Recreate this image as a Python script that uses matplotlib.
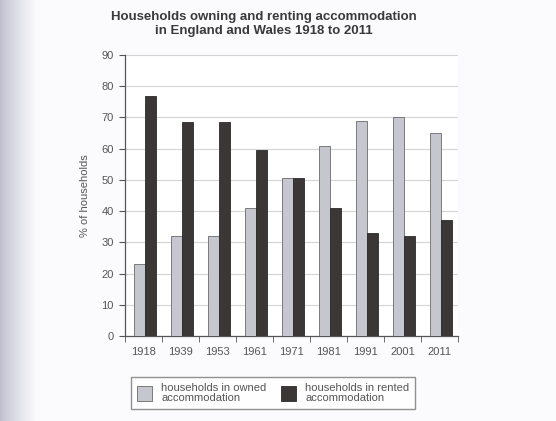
import numpy as np
import matplotlib
matplotlib.use("Agg")
from matplotlib import pyplot

years = ["1918", "1939", "1953", "1961", "1971", "1981", "1991", "2001", "2011"]
owned = [23, 32, 32, 41, 50.5, 61, 69, 70, 65]
rented = [77, 68.5, 68.5, 59.5, 50.5, 41, 33, 32, 37]

owned_color = "#c6c6ce"
rented_color = "#3b3737"
text_color = "#555555"

pyplot.rcParams["font.family"] = ["Liberation Sans", "DejaVu Sans"]

fig = pyplot.figure(figsize=(5.56, 4.21), dpi=100)
fig.patch.set_facecolor("#fbfbfd")

# scanned-page shadow on the left edge
bg = fig.add_axes([0, 0, 0.075, 1], zorder=-5)
grad = np.linspace(0, 1, 200)
shade = np.clip(grad * 1.15, 0, 1) ** 0.8
img = np.zeros((1, 200, 3))
img[0, :, 0] = 0.74 + (0.985 - 0.74) * shade
img[0, :, 1] = 0.74 + (0.985 - 0.74) * shade
img[0, :, 2] = 0.81 + (0.99 - 0.81) * shade
bg.imshow(img, aspect="auto", extent=[0, 1, 0, 1])
bg.axis("off")

ax = fig.add_axes([125 / 556, 1 - 336 / 421, 333 / 556, 281 / 421])
ax.set_facecolor("white")

x = np.arange(len(years))
width = 0.31
ax.bar(x - width / 2 + 0.04, owned, width, color=owned_color,
       edgecolor="#6a6a6a", linewidth=0.6, label="households in owned\naccommodation", zorder=3)
ax.bar(x + width / 2 + 0.04, rented, width, color=rented_color,
       edgecolor="#2a2a2a", linewidth=0.6, label="households in rented\naccommodation", zorder=3)

ax.set_xlim(-0.5, len(years) - 0.5)
ax.set_ylim(0, 90)
ax.set_yticks(range(0, 91, 10))
ax.yaxis.grid(True, color="#d4d4d4", linewidth=0.8, zorder=0)
ax.set_axisbelow(True)

ax.set_xticks(x)
ax.set_xticklabels(years)
ax.set_xticks(np.arange(-0.5, len(years)), minor=True)
ax.tick_params(axis="x", which="major", length=0, pad=8, labelsize=8, labelcolor=text_color)
ax.tick_params(axis="x", which="minor", length=4, direction="out", color="#555555")
ax.tick_params(axis="y", length=4, direction="out", labelsize=8, labelcolor=text_color,
               color="#555555", pad=4)

for side in ["top", "right"]:
    ax.spines[side].set_visible(False)
for side in ["left", "bottom"]:
    ax.spines[side].set_color("#555555")
    ax.spines[side].set_linewidth(0.9)

ax.set_ylabel("% of households", fontsize=8, color=text_color, labelpad=8)

fig.text(264 / 556, 1 - 24 / 421,
         "Households owning and renting accommodation\nin England and Wales 1918 to 2011",
         ha="center", va="center", fontsize=9.5, fontweight="bold", color="#3a3a3a",
         linespacing=1.3)

legend = fig.legend(loc="center", bbox_to_anchor=(273 / 556, 1 - 393 / 421), ncol=2,
                    fontsize=8, frameon=True, fancybox=False, edgecolor="#777777",
                    handlelength=1.4, handleheight=1.7, columnspacing=1.3,
                    borderpad=0.5, labelspacing=0.3, borderaxespad=0)
for t in legend.get_texts():
    t.set_color(text_color)
    t.set_linespacing(1.0)

fig.savefig("out.png", dpi=100, facecolor=fig.get_facecolor())
